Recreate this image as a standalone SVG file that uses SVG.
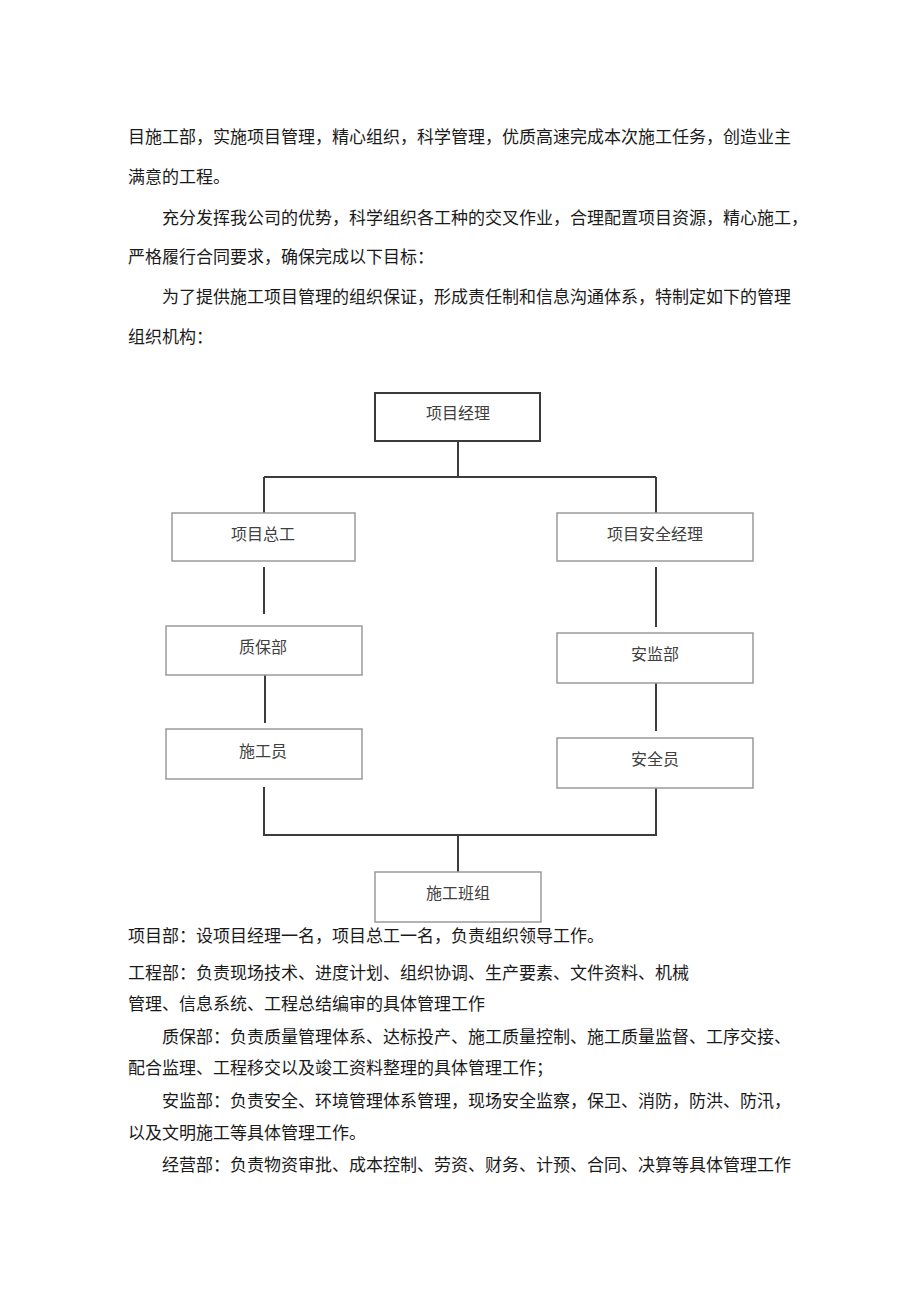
<svg xmlns="http://www.w3.org/2000/svg" width="920" height="1301" viewBox="0 0 920 1301">
<style>
.t{font-family:"Noto Sans CJK SC","Noto Sans",sans-serif;font-size:17px;fill:#1a1a1a}
.bt{font-family:"Noto Sans CJK SC","Noto Sans",sans-serif;font-size:16px;fill:#404040;text-anchor:middle}
.box{fill:#fff;stroke:#9a9a9a;stroke-width:1.5}
.boxd{fill:#fff;stroke:#3a3a3a;stroke-width:2}
.ln{fill:none;stroke:#3c3c3c;stroke-width:2}
</style>
<rect width="920" height="1301" fill="#fff"/>
<g id="body-top">
<text class="t" x="128" y="143">目施工部，实施项目管理，精心组织，科学管理，优质高速完成本次施工任务，创造业主</text>
<text class="t" x="128" y="183">满意的工程。</text>
<text class="t" x="162" y="224">充分发挥我公司的优势，科学组织各工种的交叉作业，合理配置项目资源，精心施工，</text>
<text class="t" x="128" y="263">严格履行合同要求，确保完成以下目标：</text>
<text class="t" x="162" y="303">为了提供施工项目管理的组织保证，形成责任制和信息沟通体系，特制定如下的管理</text>
<text class="t" x="128" y="343">组织机构：</text>
</g>
<g id="connectors">
<path class="ln" d="M458 441V477M264 477H656M264 477V513M656 477V513"/>
<path class="ln" d="M264 567V614M265 675V723M656 567V627M656 683V731"/>
<path class="ln" d="M264 787V835H656V788M458 835V872"/>
</g>
<g id="n-manager"><rect class="boxd" x="375" y="393" width="165" height="48"/><text class="bt" x="458" y="419">项目经理</text></g>
<g id="n-chief"><rect class="box" x="172" y="513" width="183" height="48"/><text class="bt" x="263" y="540">项目总工</text></g>
<g id="n-safety-mgr"><rect class="box" x="557" y="513" width="196" height="48"/><text class="bt" x="655" y="540">项目安全经理</text></g>
<g id="n-qa"><rect class="box" x="166" y="626" width="196" height="49"/><text class="bt" x="263" y="653">质保部</text></g>
<g id="n-safety-dept"><rect class="box" x="557" y="633" width="196" height="50"/><text class="bt" x="655" y="660">安监部</text></g>
<g id="n-builder"><rect class="box" x="166" y="729" width="196" height="50"/><text class="bt" x="263" y="757">施工员</text></g>
<g id="n-safety-off"><rect class="box" x="557" y="738" width="196" height="50"/><text class="bt" x="655" y="765">安全员</text></g>
<g id="n-team"><rect class="box" x="375" y="872" width="166" height="50"/><text class="bt" x="458" y="899">施工班组</text></g>
<g id="body-bottom">
<text class="t" x="128" y="942">项目部：设项目经理一名，项目总工一名，负责组织领导工作。</text>
<text class="t" x="128" y="979">工程部：负责现场技术、进度计划、组织协调、生产要素、文件资料、机械</text>
<text class="t" x="128" y="1010">管理、信息系统、工程总结编审的具体管理工作</text>
<text class="t" x="162" y="1043">质保部：负责质量管理体系、达标投产、施工质量控制、施工质量监督、工序交接、</text>
<text class="t" x="128" y="1074">配合监理、工程移交以及竣工资料整理的具体管理工作；</text>
<text class="t" x="162" y="1107">安监部：负责安全、环境管理体系管理，现场安全监察，保卫、消防，防洪、防汛，</text>
<text class="t" x="128" y="1139">以及文明施工等具体管理工作。</text>
<text class="t" x="162" y="1171">经营部：负责物资审批、成本控制、劳资、财务、计预、合同、决算等具体管理工作</text>
</g>
</svg>
